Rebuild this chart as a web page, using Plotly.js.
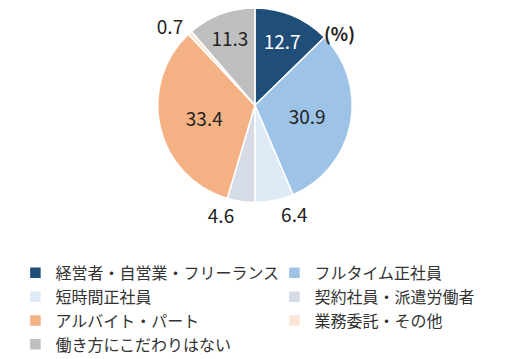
<!DOCTYPE html>
<html><head><meta charset="utf-8">
<script src="https://cdn.plot.ly/plotly-3.0.1.min.js"></script>
<style>html,body{margin:0;padding:0;background:#fff}#chart{width:514px;height:359px}</style>
</head><body><div id="chart"></div>
<script>
const categories = ["経営者・自営業・フリーランス","フルタイム正社員","短時間正社員","契約社員・派遣労働者","アルバイト・パート","業務委託・その他","働き方にこだわりはない"];
const values = [12.7, 30.9, 6.4, 4.6, 33.4, 0.7, 11.3];
const colors = ["#1F4E79","#9DC3E6","#DEEBF7","#D6DCE5","#F4B183","#FBE5D6","#BFBFBF"];
const textPos = ["inside","inside","outside","outside","inside","outside","inside"];
const textColors = ["#ffffff","#222222","#222222","#222222","#222222","#222222","#222222"];
const font = "'Noto Sans CJK JP','Noto Sans',sans-serif";
const data = [{
  type: "pie",
  labels: categories,
  values: values,
  sort: false,
  direction: "clockwise",
  rotation: 0,
  marker: {colors: colors, line: {color: "#ffffff", width: 1.5}},
  texttemplate: "%{value:.1f}",
  textposition: textPos,
  insidetextfont: {family: font, size: 19, color: textColors},
  outsidetextfont: {family: font, size: 19, color: "#222222"},
  insidetextorientation: "horizontal",
  hoverinfo: "label+value",
  domain: {x: [0.305, 0.687], y: [0.209, 0.969]}
}];
const layout = {
  width: 514, height: 359,
  margin: {l: 0, r: 0, t: 0, b: 101},
  paper_bgcolor: "#ffffff",
  showlegend: true,
  legend: {orientation: "h", xref: "container", yref: "container", x: 0.030, y: 0.287, xanchor: "left", yanchor: "top",
    entrywidth: 214, entrywidthmode: "pixels", traceorder: "normal",
    font: {family: font, size: 16, color: "#333333"}, tracegroupgap: 0},
  annotations: [{text: "<b>(%)</b>", x: 0.661, y: 0.872, xref: "paper", yref: "paper", xanchor: "center", yanchor: "middle", showarrow: false,
    font: {family: font, size: 18, color: "#222222"}}]
};
Plotly.newPlot("chart", data, layout, {displayModeBar: false, staticPlot: true});
</script></body></html>
